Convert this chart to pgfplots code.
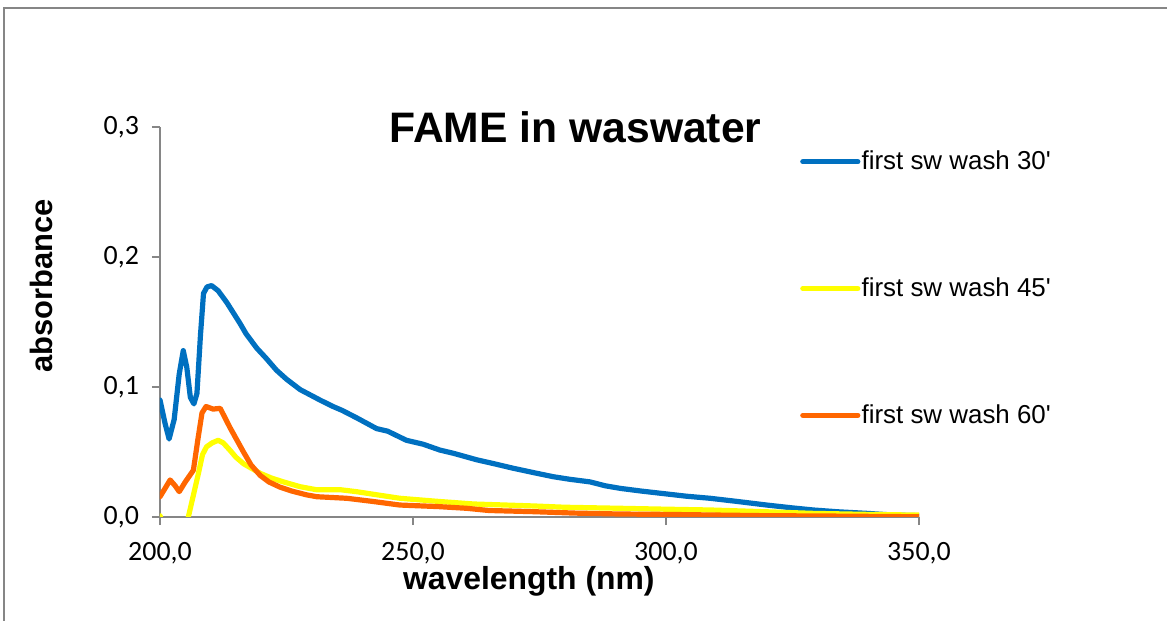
\documentclass[border=0pt]{standalone}
\usepackage{pgfplots}
\pgfplotsset{compat=1.18}
\usepackage{fontspec}
\setmainfont{Liberation Sans}
\newfontfamily\tickfont{Carlito}
\definecolor{sblue}{RGB}{0,112,192}
\definecolor{syellow}{RGB}{255,255,0}
\definecolor{sorange}{RGB}{255,102,0}
\definecolor{agray}{RGB}{134,134,134}
\begin{document}
\begin{tikzpicture}
\useasboundingbox (-80bp,-52bp) rectangle (503.5bp,258.5bp);
\draw[agray,line width=1bp] (-78bp,-52bp) -- (-78bp,254.5bp) -- (503.5bp,254.5bp);
\begin{axis}[
  at={(0,0)}, anchor=south west,
  scale only axis, width=379.5bp, height=195bp,
  xmin=200, xmax=350, ymin=0, ymax=0.3,
  axis lines=left, axis line style={agray,line width=0.8bp,-},
  xtick={200,250,300,350}, ytick={0,0.1,0.2,0.3},
  tick style={agray,line width=0.8bp},
  major tick length=4bp,
  tick align=outside,
  tick label style={font=\tickfont\fontsize{14}{16}\selectfont},
  /pgf/number format/assume math mode=true,
  /pgf/number format/.cd, fixed, fixed zerofill, precision=1, use comma, 1000 sep={},
  /pgfplots/.cd,
  xticklabel style={yshift=-5bp},
  yticklabel style={xshift=-3bp},
  xlabel={\bfseries wavelength (nm)},
  ylabel={\bfseries absorbance},
  xlabel style={font=\fontsize{16}{19}\selectfont, at={(rel axis cs:0.486,0)}, anchor=center, yshift=-32bp},
  ylabel style={font=\fontsize{15.5}{19}\selectfont, at={(axis description cs:-0.1568,0.592)}, anchor=center},
  clip mode=individual,
  legend style={draw=none, fill=none, font=\fontsize{13}{15}\selectfont,
    at={(rel axis cs:0.843,0.95)}, anchor=north west, inner sep=0pt,
    row sep=48.5bp, cells={anchor=west}, nodes={inner xsep=0.6bp}},
  legend cell align=left,
  legend image code/.code={\draw[#1,line cap=round] (0bp,0bp) -- (27.5bp,0bp);},
  every axis plot/.append style={line width=2.6bp, line join=round, line cap=round},
]
\addplot[sblue] coordinates {
(200,0.090) (201,0.072) (201.8,0.060) (202.8,0.075) (203.8,0.110) (204.6,0.128)
(205.3,0.115) (206,0.092) (206.7,0.087) (207.3,0.095) (208,0.140) (208.6,0.172)
(209.3,0.177) (210.2,0.178) (211.5,0.174) (213.2,0.165) (214.5,0.157) (215.8,0.149)
(217,0.141) (219.1,0.130) (221,0.122) (223,0.113) (225,0.106) (227.7,0.098)
(231.6,0.090) (234.2,0.085) (236,0.082) (239,0.076) (242.8,0.068) (245,0.066)
(248.7,0.059) (252,0.056) (255.3,0.0515) (258,0.049) (262.6,0.044) (266,0.041)
(269.8,0.0375) (274,0.034) (277.7,0.031) (281,0.029) (285,0.027) (288,0.024)
(291,0.022) (295,0.020) (299.5,0.018) (304,0.016) (308.7,0.0144) (314,0.012)
(319.9,0.0092) (325,0.007) (329.1,0.0054) (334,0.004) (339.7,0.0028) (345,0.0015) (350,0.001)
};
\addlegendentry{first sw wash 30\textquotesingle}
\addplot[syellow] coordinates {
(200,0.001) (201,-0.01) (203,-0.03) (205,-0.01) (205.6,0.0) (207.6,0.0336)
(208.4,0.048) (209.2,0.054) (210.3,0.057) (211.5,0.059) (212.5,0.057) (213.8,0.0515)
(215,0.046) (216.5,0.041) (219.8,0.0336) (222,0.030) (224.4,0.027) (227.7,0.0233)
(230.9,0.021) (235.6,0.021) (238.8,0.0195) (243,0.017) (247.4,0.0144) (255,0.012)
(262,0.010) (273.8,0.0085) (280,0.0075) (290.9,0.0067) (300,0.006) (308.7,0.0054)
(320,0.004) (329,0.0028) (340,0.002) (349.4,0.0015) (350,0.0015)
};
\addlegendentry{first sw wash 45\textquotesingle}
\addplot[sorange] coordinates {
(200,0.0156) (201,0.022) (202,0.0285) (203,0.024) (203.8,0.0195) (205,0.027)
(206.6,0.036) (207.5,0.060) (208.3,0.080) (209.1,0.085) (210.5,0.083) (211.9,0.0836)
(213.8,0.069) (216.5,0.050) (218,0.040) (219.8,0.032) (221.5,0.027) (223.7,0.023)
(226,0.020) (229,0.017) (231,0.0156) (236.9,0.0144) (242,0.012) (247.4,0.0092)
(255,0.008) (260.6,0.0067) (265,0.005) (273.8,0.0041) (282,0.003) (290.9,0.0023)
(300,0.002) (310,0.0015) (320,0.001) (330,0.0008) (340,0.0005) (350,0.0002)
};
\addlegendentry{first sw wash 60\textquotesingle}
\node[font=\fontsize{21.4}{25}\selectfont\bfseries, anchor=center] at (rel axis cs:0.5,1) [xshift=18bp] {FAME in waswater};
\end{axis}
\end{tikzpicture}
\end{document}
